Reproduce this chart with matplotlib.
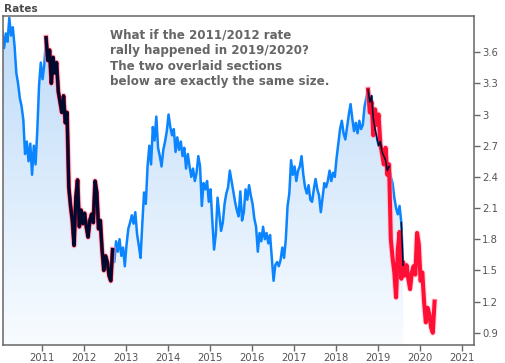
import numpy as np
import matplotlib.pyplot as plt

# semi-monthly readings of the rate, first point mid-January 2010
start_year = 2010.0625
step = 1 / 24
rates = [
    3.80, 3.64, 3.78, 3.70, 3.93, 3.76, 3.84, 3.66, 3.40, 3.30, 3.16, 3.08,
    2.95, 2.62, 2.74, 2.55, 2.72, 2.42, 2.70, 2.52, 2.85, 3.28, 3.50, 3.34,
    3.48, 3.74, 3.52, 3.62, 3.30, 3.55, 3.40, 3.50, 3.22, 3.12, 3.02, 3.18,
    2.92, 3.02, 2.30, 2.12, 1.98, 1.74, 2.20, 2.37, 1.92, 2.08, 1.95, 2.05,
    1.92, 1.82, 1.98, 2.04, 1.96, 2.36, 2.25, 1.90, 1.98, 1.70, 1.50, 1.64,
    1.58, 1.45, 1.40, 1.70, 1.58, 1.78, 1.68, 1.80, 1.64, 1.72, 1.54, 1.75,
    1.90, 1.96, 2.03, 1.95, 2.06, 1.85, 1.74, 1.62, 1.95, 2.25, 2.14, 2.50,
    2.70, 2.52, 2.88, 2.75, 2.98, 2.68, 2.60, 2.50, 2.66, 2.74, 2.84, 3.00,
    2.88, 2.80, 2.86, 2.64, 2.78, 2.66, 2.74, 2.60, 2.68, 2.48, 2.62, 2.50,
    2.40, 2.48, 2.36, 2.44, 2.60, 2.50, 2.12, 2.34, 2.28, 2.36, 2.16, 2.28,
    1.98, 1.70, 1.85, 2.20, 2.04, 1.88, 1.96, 2.14, 2.24, 2.30, 2.46, 2.36,
    2.26, 2.16, 2.08, 2.02, 2.26, 1.98, 2.06, 2.28, 2.18, 2.32, 2.22, 2.14,
    2.00, 1.92, 1.68, 1.86, 1.78, 1.92, 1.80, 1.86, 1.76, 1.84, 1.62, 1.40,
    1.55, 1.58, 1.54, 1.60, 1.72, 1.62, 1.80, 2.12, 2.24, 2.56, 2.42, 2.50,
    2.36, 2.46, 2.50, 2.60, 2.42, 2.30, 2.24, 2.32, 2.18, 2.16, 2.28, 2.38,
    2.28, 2.22, 2.06, 2.20, 2.34, 2.30, 2.36, 2.46, 2.36, 2.44, 2.40, 2.58,
    2.72, 2.86, 2.94, 2.82, 2.76, 2.88, 3.00, 3.10, 2.96, 2.84, 2.92, 2.82,
    2.94, 2.86, 2.90, 3.08, 3.16, 3.24, 3.12, 3.18, 2.96, 2.86, 2.78, 2.70,
    2.74, 2.64, 2.60, 2.56, 2.46, 2.50, 2.40, 2.34, 2.20, 2.10, 2.04, 2.12,
    1.96, 1.55,
]

# the 2011/2012 rally (indices into rates) and where it is pasted in 2019/2020
rally_first, rally_last = 25, 63
paste_steps = 184
paste_shift = -0.50
# parts of the recent data that are traced in black
recent_parts = [(209, 221), (228, 229)]

years = [2011, 2012, 2013, 2014, 2015, 2016, 2017, 2018, 2019, 2020, 2021]
rate_ticks = [0.9, 1.2, 1.5, 1.8, 2.1, 2.4, 2.7, 3.0, 3.3, 3.6]

dates = start_year + np.arange(len(rates)) * step
vals = np.array(rates)
x_lo, x_hi = 2010.079, 2021.293
y_lo, y_hi = 0.782, 3.948

fig = plt.figure(figsize=(5.06, 3.63), dpi=100)
ax = fig.add_axes([3 / 506, 18 / 363, 471 / 506, 329 / 363])
ax.set_xlim(x_lo, x_hi)
ax.set_ylim(y_lo, y_hi)

# gradient fill under the line
poly = ax.fill_between(dates, vals, y_lo, color='none', lw=0)
grad = np.linspace(0, 1, 256).reshape(-1, 1)
top = np.array([0.74, 0.855, 0.975])
bottom = np.array([0.975, 0.988, 1.0])
img = bottom + (top - bottom) * grad
img = img.reshape(256, 1, 3)
im = ax.imshow(img, extent=[x_lo, x_hi, y_lo, y_hi], origin='lower',
               aspect='auto', zorder=1)
im.set_clip_path(poly.get_paths()[0], transform=ax.transData)

ax.plot(dates, vals, color='#0a84ff', lw=1.8, zorder=2)

rally_t = dates[rally_first:rally_last + 1]
rally_v = vals[rally_first:rally_last + 1]
pasted_t = rally_t + paste_steps * step
pasted_v = rally_v + paste_shift

for t, v in [(rally_t, rally_v), (pasted_t, pasted_v)]:
    ax.plot(t, v, color='#ffb3c0', lw=4.4, alpha=0.55, zorder=3)
    ax.plot(t, v, color='#ff0f35', lw=2.9, zorder=3)

ax.plot(rally_t, rally_v, color='#000a2e', lw=2.3, zorder=4)
for a, b in recent_parts:
    ax.plot(dates[a:b + 1], vals[a:b + 1], color='#000a2e', lw=1.1, zorder=4)

for s in ax.spines.values():
    s.set_color('#666666')
    s.set_linewidth(1.1)

ax.set_xticks(years)
ax.set_xticklabels([str(y) for y in years])
ax.set_yticks(rate_ticks)
ax.set_yticklabels(['%g' % r for r in rate_ticks])
ax.yaxis.tick_right()
ax.tick_params(axis='both', direction='out', length=4, width=1,
               color='#666666', labelcolor='#555555', labelsize=7.2, pad=2)

fig.text(4 / 506, 1 - 12 / 363, 'Rates', fontsize=7.6, fontweight='bold',
         color='#4a4a4a', va='baseline')
fig.text(110 / 506, 1 - 28 / 363,
         'What if the 2011/2012 rate\nrally happened in 2019/2020?\n'
         'The two overlaid sections\nbelow are exactly the same size.',
         fontsize=8.6, fontweight='bold', color='#666666', va='top',
         linespacing=1.28)

fig.savefig('out.png', dpi=100)
